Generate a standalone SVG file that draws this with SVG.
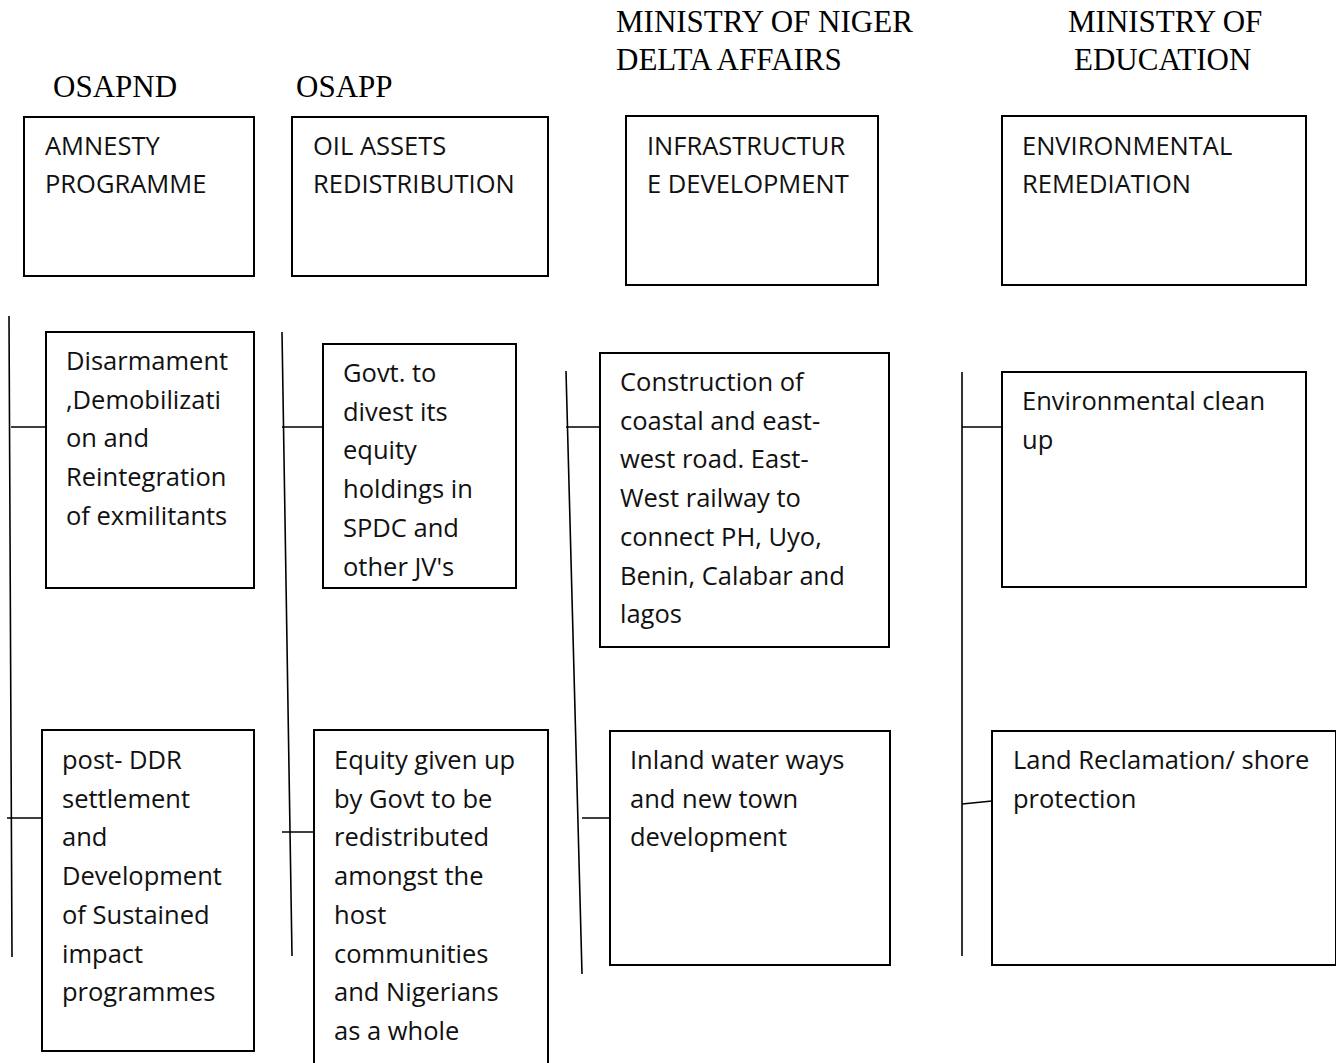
<svg xmlns="http://www.w3.org/2000/svg" width="1336" height="1063" viewBox="0 0 1336 1063">
<style>
.hd{font-family:"Liberation Serif","Times New Roman",serif;font-size:31px;fill:#000}
.tx{font-family:"Open Sans","Liberation Sans",sans-serif;font-size:25.5px;fill:#111}
.bx{fill:#fff;stroke:#000;stroke-width:2}
.ln{stroke:#000;stroke-width:1.6;fill:none}
</style>
<rect width="1336" height="1063" fill="#fff"/>
<g id="headers">
<text class="hd" x="53" y="97">OSAPND</text>
<text class="hd" x="296" y="97">OSAPP</text>
<text class="hd" x="616" y="32">MINISTRY OF NIGER</text>
<text class="hd" x="616" y="70">DELTA AFFAIRS</text>
<text class="hd" x="1068" y="32">MINISTRY OF</text>
<text class="hd" x="1074" y="70">EDUCATION</text>
</g>
<g id="connectors">
<path class="ln" d="M9 316 L12 957 M11 427 H46 M7 818 H42"/>
<path class="ln" d="M282 332 L292 956 M282 427 H323 M282 832 H313"/>
<path class="ln" d="M566 371 L582 974 M566 427 H600 M582 818 H610"/>
<path class="ln" d="M962 372 V956 M962 427 H1002 M962 804 L992 801"/>
</g>
<g id="amnesty">
<rect class="bx" x="24" y="117" width="230" height="159"/>
<text class="tx" x="45" y="155">AMNESTY</text>
<text class="tx" x="45" y="193">PROGRAMME</text>
</g>
<g id="oil-assets">
<rect class="bx" x="292" y="117" width="256" height="159"/>
<text class="tx" x="313" y="155">OIL ASSETS</text>
<text class="tx" x="313" y="193">REDISTRIBUTION</text>
</g>
<g id="infrastructure">
<rect class="bx" x="626" y="116" width="252" height="169"/>
<text class="tx" x="647" y="155">INFRASTRUCTUR</text>
<text class="tx" x="647" y="193">E DEVELOPMENT</text>
</g>
<g id="environmental">
<rect class="bx" x="1002" y="116" width="304" height="169"/>
<text class="tx" x="1022" y="155">ENVIRONMENTAL</text>
<text class="tx" x="1022" y="193">REMEDIATION</text>
</g>
<g id="ddr">
<rect class="bx" x="46" y="332" width="208" height="256"/>
<text class="tx" x="66" y="370">Disarmament</text>
<text class="tx" x="66" y="408.7">,Demobilizati</text>
<text class="tx" x="66" y="447.4">on and</text>
<text class="tx" x="66" y="486.1">Reintegration</text>
<text class="tx" x="66" y="524.8">of exmilitants</text>
</g>
<g id="divest">
<rect class="bx" x="323" y="344" width="193" height="244"/>
<text class="tx" x="343" y="382">Govt. to</text>
<text class="tx" x="343" y="420.7">divest its</text>
<text class="tx" x="343" y="459.4">equity</text>
<text class="tx" x="343" y="498.1">holdings in</text>
<text class="tx" x="343" y="536.8">SPDC and</text>
<text class="tx" x="343" y="575.5">other JV's</text>
</g>
<g id="roads">
<rect class="bx" x="600" y="353" width="289" height="294"/>
<text class="tx" x="620" y="391">Construction of</text>
<text class="tx" x="620" y="429.7">coastal and east-</text>
<text class="tx" x="620" y="468.4">west road. East-</text>
<text class="tx" x="620" y="507.1">West railway to</text>
<text class="tx" x="620" y="545.8">connect PH, Uyo,</text>
<text class="tx" x="620" y="584.5">Benin, Calabar and</text>
<text class="tx" x="620" y="623.2">lagos</text>
</g>
<g id="cleanup">
<rect class="bx" x="1002" y="372" width="304" height="215"/>
<text class="tx" x="1022" y="410">Environmental clean</text>
<text class="tx" x="1022" y="448.7">up</text>
</g>
<g id="post-ddr">
<rect class="bx" x="42" y="730" width="212" height="321"/>
<text class="tx" x="62" y="769">post- DDR</text>
<text class="tx" x="62" y="807.7">settlement</text>
<text class="tx" x="62" y="846.4">and</text>
<text class="tx" x="62" y="885.1">Development</text>
<text class="tx" x="62" y="923.8">of Sustained</text>
<text class="tx" x="62" y="962.5">impact</text>
<text class="tx" x="62" y="1001.2">programmes</text>
</g>
<g id="equity">
<rect class="bx" x="314" y="730" width="234" height="345"/>
<text class="tx" x="334" y="769">Equity given up</text>
<text class="tx" x="334" y="807.7">by Govt to be</text>
<text class="tx" x="334" y="846.4">redistributed</text>
<text class="tx" x="334" y="885.1">amongst the</text>
<text class="tx" x="334" y="923.8">host</text>
<text class="tx" x="334" y="962.5">communities</text>
<text class="tx" x="334" y="1001.2">and Nigerians</text>
<text class="tx" x="334" y="1039.9">as a whole</text>
</g>
<g id="waterways">
<rect class="bx" x="610" y="731" width="280" height="234"/>
<text class="tx" x="630" y="769">Inland water ways</text>
<text class="tx" x="630" y="807.7">and new town</text>
<text class="tx" x="630" y="846.4">development</text>
</g>
<g id="reclamation">
<rect class="bx" x="992" y="731" width="344" height="234"/>
<text class="tx" x="1013" y="769">Land Reclamation/ shore</text>
<text class="tx" x="1013" y="807.7">protection</text>
</g>
</svg>
